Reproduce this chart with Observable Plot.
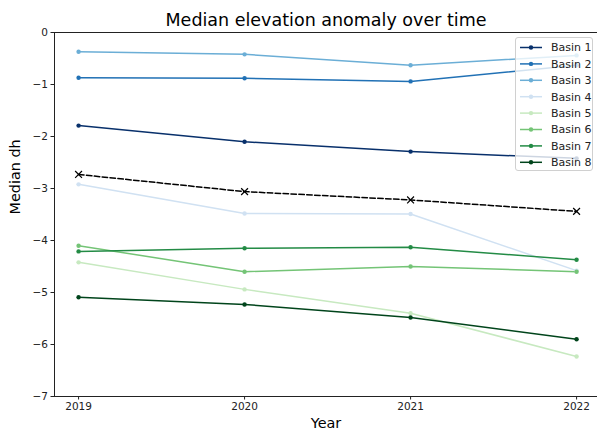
<!DOCTYPE html>
<html><head><meta charset="utf-8">
<script src="https://cdn.jsdelivr.net/npm/d3@7"></script>
<script src="https://cdn.jsdelivr.net/npm/@observablehq/plot@0.6"></script>
<style>
body{margin:0;background:#fff;font-family:"DejaVu Sans",sans-serif;}
#wrap{position:relative;width:597px;height:432px;overflow:hidden;}
#legend{position:absolute;left:515px;top:37px;width:78px;height:134px;background:rgba(255,255,255,0.8);border:1px solid #d0d0d0;border-radius:3px;box-sizing:border-box;}
</style>
</head><body><div id="wrap"></div>
<script>
const years = [2019, 2020, 2021, 2022];
const basinNames = ["Basin 1","Basin 2","Basin 3","Basin 4","Basin 5","Basin 6","Basin 7","Basin 8"];
const basin1 = [-1.79, -2.10, -2.29, -2.42];
const basin2 = [-0.87, -0.88, -0.94, -0.63];
const basin3 = [-0.37, -0.42, -0.63, -0.44];
const basin4 = [-2.92, -3.48, -3.49, -4.58];
const basin5 = [-4.42, -4.94, -5.40, -6.23];
const basin6 = [-4.10, -4.60, -4.50, -4.60];
const basin7 = [-4.21, -4.15, -4.13, -4.37];
const basin8 = [-5.09, -5.23, -5.48, -5.90];
const meanDh = [-2.73, -3.06, -3.22, -3.44];
const basinColors = ["#08306b","#2171b5","#6baed6","#d0e1f2","#c7e9c0","#74c476","#238b45","#00441b"];
const yTicks = [0, -1, -2, -3, -4, -5, -6, -7];

const series = [basin1, basin2, basin3, basin4, basin5, basin6, basin7, basin8];
const rows = [];
series.forEach((vals, i) => vals.forEach((v, j) => rows.push({basin: basinNames[i], year: years[j], dh: v})));
const meanRows = meanDh.map((v, j) => ({year: years[j], dh: v}));

const fmtY = d => (d < 0 ? "\u2212" : "") + Math.abs(d);

const plot = Plot.plot({
  width: 597, height: 432,
  marginLeft: 54, marginRight: 0, marginTop: 32, marginBottom: 36,
  x: {domain: [2018.855, 2022.126]},
  y: {domain: [-7, 0]},
  color: {domain: basinNames, range: basinColors},
  style: {fontFamily: "DejaVu Sans", fontSize: "10.5px", color: "#222", background: "#fff"},
  marks: [
    Plot.axisX({ticks: years, tickFormat: d => String(d), tickSize: 3.5, tickPadding: 3, label: null, fontSize: 10.5}),
    Plot.axisY({ticks: yTicks, tickFormat: fmtY, tickSize: 3.5, tickPadding: 3, label: null, fontSize: 10.5}),
    Plot.line(rows, {x: "year", y: "dh", z: "basin", stroke: "basin", strokeWidth: 1.5}),
    Plot.dot(rows, {x: "year", y: "dh", fill: "basin", r: 2.2}),
    Plot.line(meanRows, {x: "year", y: "dh", stroke: "#000", strokeWidth: 1.5, strokeDasharray: "5.5,2.4"}),
    Plot.dot(meanRows, {x: "year", y: "dh", symbol: "times", stroke: "#000", r: 3.2, strokeWidth: 1.2}),
    Plot.frame({stroke: "#222", strokeWidth: 1}),
    Plot.text(["Median elevation anomaly over time"], {frameAnchor: "top", lineAnchor: "middle", dy: -12, fontSize: 17.5, fill: "#000"}),
    Plot.text(["Year"], {frameAnchor: "bottom", lineAnchor: "middle", dy: 27, fontSize: 14.4, fill: "#000"}),
    Plot.text(["Median dh"], {frameAnchor: "left", dx: -39, rotate: -90, fontSize: 14.4, fill: "#000"})
  ]
});
const wrap = document.getElementById("wrap");
wrap.appendChild(plot);

const legend = d3.select(wrap).append("div").attr("id", "legend");
const lsvg = legend.append("svg").attr("width", 78).attr("height", 134);
basinNames.forEach((name, i) => {
  const y = 9.5 + i * 16.4;
  const g = lsvg.append("g");
  g.append("line").attr("x1", 4).attr("x2", 26).attr("y1", y).attr("y2", y)
    .attr("stroke", basinColors[i]).attr("stroke-width", 1.5);
  g.append("circle").attr("cx", 15).attr("cy", y).attr("r", 2.2).attr("fill", basinColors[i]);
  g.append("text").attr("x", 35).attr("y", y).attr("dy", "0.35em")
    .attr("font-family", "DejaVu Sans").attr("font-size", 11).attr("fill", "#222").text(name);
});
</script>
</body></html>
